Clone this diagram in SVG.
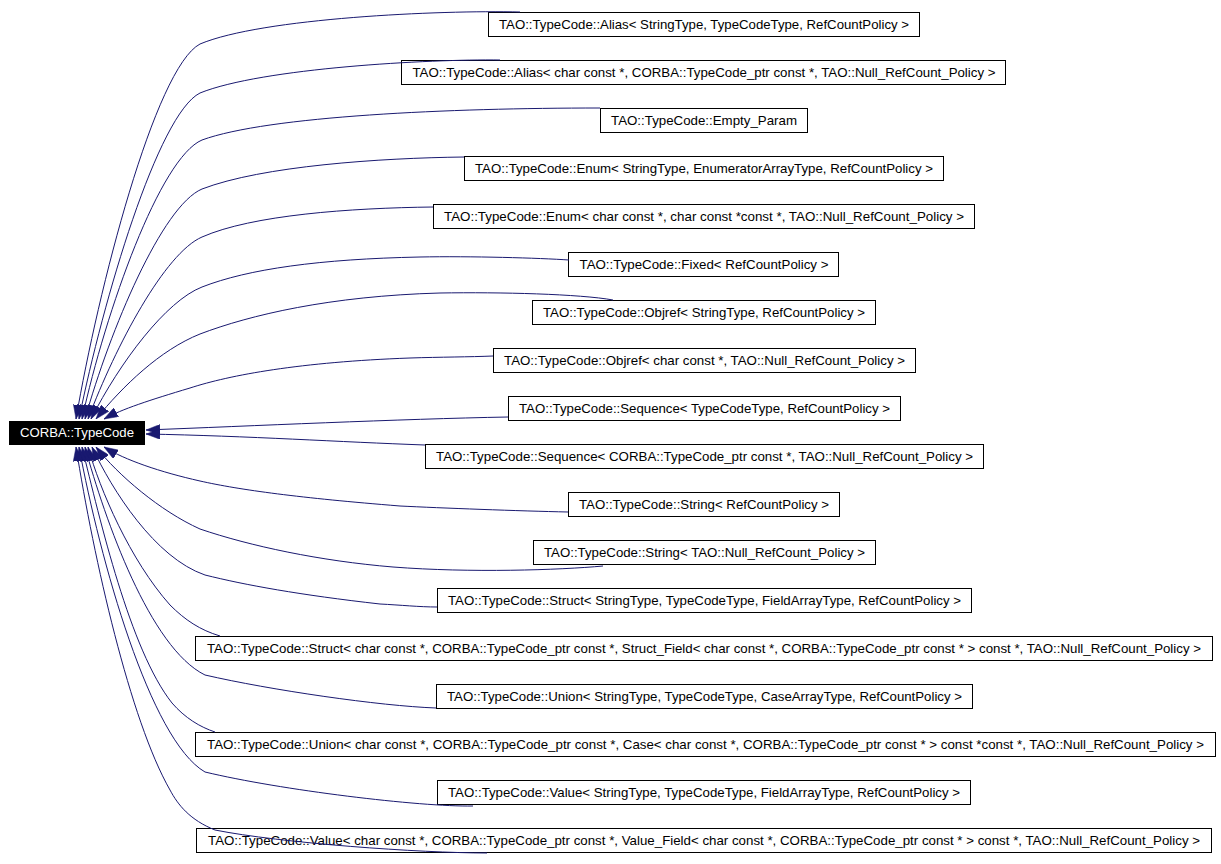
<svg xmlns="http://www.w3.org/2000/svg" width="1221" height="864" viewBox="0 0 1221 864">
<style>
.n rect{fill:#ffffff;stroke:#000000;stroke-width:1}
.n text{font-family:"Liberation Sans",Arial,Helvetica,sans-serif;font-size:13px;fill:#000000;text-anchor:middle}
#root rect{fill:#000000;stroke:#000000}
#root text{fill:#ffffff}
.e path{fill:none;stroke:#191970;stroke-width:1;marker-end:url(#arr)}
</style>
<defs>
<marker id="arr" viewBox="0 0 14 10" refX="14" refY="5" markerWidth="14" markerHeight="10" markerUnits="userSpaceOnUse" orient="auto">
<path d="M0,0 L14,5 L0,10 z" fill="#191970" stroke="#191970" stroke-width="0.5"/>
</marker>
</defs>
<rect width="1221" height="864" fill="#ffffff"/>
<g id="nodes">
<g id="root" class="n"><rect x="9.5" y="421.5" width="135" height="23"/><text x="77" y="437" textLength="114" lengthAdjust="spacingAndGlyphs">CORBA::TypeCode</text></g>
<g id="n1" class="n"><rect x="488.5" y="12.5" width="431" height="24"/><text x="704" y="29" textLength="410" lengthAdjust="spacingAndGlyphs">TAO::TypeCode::Alias&lt; StringType, TypeCodeType, RefCountPolicy &gt;</text></g>
<g id="n2" class="n"><rect x="401.5" y="60.5" width="604" height="24"/><text x="704" y="77" textLength="583" lengthAdjust="spacingAndGlyphs">TAO::TypeCode::Alias&lt; char const *, CORBA::TypeCode_ptr const *, TAO::Null_RefCount_Policy &gt;</text></g>
<g id="n3" class="n"><rect x="600.5" y="108.5" width="207" height="24"/><text x="704" y="125" textLength="186" lengthAdjust="spacingAndGlyphs">TAO::TypeCode::Empty_Param</text></g>
<g id="n4" class="n"><rect x="464.5" y="156.5" width="479" height="24"/><text x="704" y="173" textLength="458" lengthAdjust="spacingAndGlyphs">TAO::TypeCode::Enum&lt; StringType, EnumeratorArrayType, RefCountPolicy &gt;</text></g>
<g id="n5" class="n"><rect x="433.5" y="204.5" width="541" height="24"/><text x="704" y="221" textLength="520" lengthAdjust="spacingAndGlyphs">TAO::TypeCode::Enum&lt; char const *, char const *const *, TAO::Null_RefCount_Policy &gt;</text></g>
<g id="n6" class="n"><rect x="568.5" y="252.5" width="270" height="24"/><text x="704" y="269" textLength="249" lengthAdjust="spacingAndGlyphs">TAO::TypeCode::Fixed&lt; RefCountPolicy &gt;</text></g>
<g id="n7" class="n"><rect x="532.5" y="300.5" width="343" height="24"/><text x="704" y="317" textLength="322" lengthAdjust="spacingAndGlyphs">TAO::TypeCode::Objref&lt; StringType, RefCountPolicy &gt;</text></g>
<g id="n8" class="n"><rect x="493.5" y="348.5" width="422" height="24"/><text x="704.5" y="365" textLength="401" lengthAdjust="spacingAndGlyphs">TAO::TypeCode::Objref&lt; char const *, TAO::Null_RefCount_Policy &gt;</text></g>
<g id="n9" class="n"><rect x="508.5" y="396.5" width="392" height="24"/><text x="704.5" y="413" textLength="371" lengthAdjust="spacingAndGlyphs">TAO::TypeCode::Sequence&lt; TypeCodeType, RefCountPolicy &gt;</text></g>
<g id="n10" class="n"><rect x="425.5" y="444.5" width="558" height="24"/><text x="704.5" y="461" textLength="537" lengthAdjust="spacingAndGlyphs">TAO::TypeCode::Sequence&lt; CORBA::TypeCode_ptr const *, TAO::Null_RefCount_Policy &gt;</text></g>
<g id="n11" class="n"><rect x="568.5" y="492.5" width="271" height="24"/><text x="704" y="509" textLength="250" lengthAdjust="spacingAndGlyphs">TAO::TypeCode::String&lt; RefCountPolicy &gt;</text></g>
<g id="n12" class="n"><rect x="533.5" y="540.5" width="342" height="24"/><text x="704.5" y="557" textLength="321" lengthAdjust="spacingAndGlyphs">TAO::TypeCode::String&lt; TAO::Null_RefCount_Policy &gt;</text></g>
<g id="n13" class="n"><rect x="437.5" y="588.5" width="534" height="24"/><text x="704.5" y="605" textLength="513" lengthAdjust="spacingAndGlyphs">TAO::TypeCode::Struct&lt; StringType, TypeCodeType, FieldArrayType, RefCountPolicy &gt;</text></g>
<g id="n14" class="n"><rect x="195.5" y="636.5" width="1017" height="24"/><text x="704" y="653" textLength="994" lengthAdjust="spacingAndGlyphs">TAO::TypeCode::Struct&lt; char const *, CORBA::TypeCode_ptr const *, Struct_Field&lt; char const *, CORBA::TypeCode_ptr const * &gt; const *, TAO::Null_RefCount_Policy &gt;</text></g>
<g id="n15" class="n"><rect x="436.5" y="684.5" width="536" height="24"/><text x="704.5" y="701" textLength="515" lengthAdjust="spacingAndGlyphs">TAO::TypeCode::Union&lt; StringType, TypeCodeType, CaseArrayType, RefCountPolicy &gt;</text></g>
<g id="n16" class="n"><rect x="195.5" y="732.5" width="1020" height="24"/><text x="705.5" y="749" textLength="997" lengthAdjust="spacingAndGlyphs">TAO::TypeCode::Union&lt; char const *, CORBA::TypeCode_ptr const *, Case&lt; char const *, CORBA::TypeCode_ptr const * &gt; const *const *, TAO::Null_RefCount_Policy &gt;</text></g>
<g id="n17" class="n"><rect x="437.5" y="780.5" width="533" height="24"/><text x="704" y="797" textLength="512" lengthAdjust="spacingAndGlyphs">TAO::TypeCode::Value&lt; StringType, TypeCodeType, FieldArrayType, RefCountPolicy &gt;</text></g>
<g id="n18" class="n"><rect x="196.5" y="828.5" width="1015" height="24"/><text x="704" y="845" textLength="992" lengthAdjust="spacingAndGlyphs">TAO::TypeCode::Value&lt; char const *, CORBA::TypeCode_ptr const *, Value_Field&lt; char const *, CORBA::TypeCode_ptr const * &gt; const *, TAO::Null_RefCount_Policy &gt;</text></g>
</g>
<g id="edges" class="e">
<path d="M520,12 C440,10 262,18 200,44 C155,68 98,290 76,419"/>
<path d="M500,60 C430,59 262,68 200,93 C158,114 103,300 79,419"/>
<path d="M600,108 C450,108 268,116 202,140 C160,158 106,310 82,419"/>
<path d="M464,157 C380,158 262,166 202,189 C162,206 110,330 85,419"/>
<path d="M433,207 C350,208 252,215 202,237 C165,253 116,345 88,419"/>
<path d="M569,260 C540,258 470,256 420,257 C320,259 248,269 202,287 C166,301 120,362 91,419"/>
<path d="M613,300 C580,294 500,292 440,293 C330,296 250,315 200,334 C160,350 123,386 96,419"/>
<path d="M493,356 C470,357 440,357 410,358 C300,362 230,375 190,388 C150,400 122,409 104,419"/>
<path d="M508,417 C400,419 250,426 146,430"/>
<path d="M425,445 C340,442 250,436 146,434"/>
<path d="M568,512 C520,511 440,508 400,506 C300,498 240,490 200,481 C160,472 125,460 104,447"/>
<path d="M603,566 C560,570 470,573 393,567 C320,561 250,546 200,529 C160,511 118,475 96,447"/>
<path d="M437,607 C420,607 400,605 380,604 C300,595 245,585 205,575 C155,558 112,490 92,447"/>
<path d="M220,636 C200,630 185,620 170,605 C130,560 100,490 88,447"/>
<path d="M436,708 C380,706 270,690 205,675 C150,648 105,520 85,447"/>
<path d="M215,732 C200,727 185,718 172,703 C130,650 100,520 82,447"/>
<path d="M473,806 C420,807 280,790 205,772 C150,740 100,560 79,447"/>
<path d="M487,853 C420,853 280,843 215,830 C190,820 178,805 170,790 C130,720 94,560 76,447"/>
</g>
</svg>
